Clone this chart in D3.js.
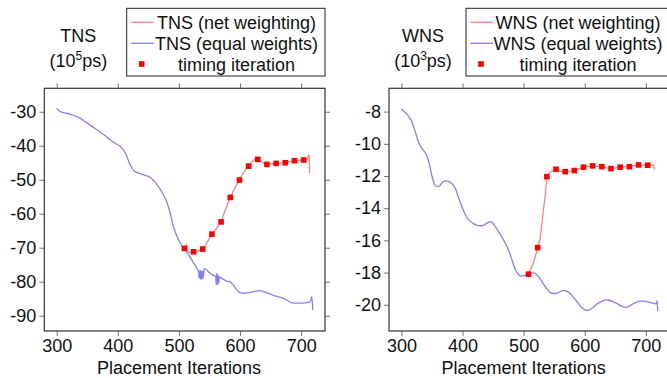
<!DOCTYPE html>
<html>
<head>
<meta charset="utf-8">
<script src="https://cdn.jsdelivr.net/npm/d3@7"></script>
<style>
  body { margin: 0; background: #fff; }
  text { font-family: "Liberation Sans", Arial, sans-serif; fill: #111; }
</style>
</head>
<body>
<div id="chart"></div>
<script>
// x ticks shared by both panels
var iterTicks = [300, 400, 500, 600, 700];

// TNS, equal weights (blue)
var tnsEqIter = [300, 303, 310, 320, 335, 349, 365, 382, 395, 404, 412, 420, 428, 440, 452, 460, 470, 480, 486, 491, 497, 505, 513, 520, 527, 532,
  533.5, 534.5, 535.5, 536.5, 537.5, 538.5, 539.5, 541, 543, 548, 555, 560,
  561, 562, 563, 564, 565, 566, 570, 578, 583, 589, 595, 600, 608, 620, 632, 640, 649, 660, 671, 678, 685, 694, 704, 711, 715, 717.4, 719];
var tnsEq = [-29.0, -29.6, -30.2, -30.6, -31.6, -33.2, -35.2, -37.4, -39.2, -40.2, -42.0, -45.5, -47.6, -48.4, -49.2, -50.5, -53.0, -56.5, -60.0, -63.8, -66.7, -69.5, -71.3, -73.3, -75.3, -77.0,
  -79.0, -76.5, -79.2, -76.8, -79.3, -77.0, -79.0, -76.3, -76.2, -77.0, -78.0, -78.5,
  -80.8, -77.5, -81.0, -78.0, -80.5, -78.6, -79.0, -79.8, -80.0, -81.0, -82.4, -83.3, -83.4, -83.0, -82.6, -83.0, -83.6, -84.3, -84.9, -85.6, -86.2, -86.3, -86.3, -86.1, -85.9, -84.4, -88.3];

// TNS, net weighting (red)
var tnsNetIter = [506, 509, 512, 513, 518, 524, 531, 539, 546, 554, 561, 569, 576, 584, 591, 599, 606, 614, 621, 625, 629, 636, 644, 651, 659, 666, 674, 681, 689, 696, 704, 710, 713, 714];
var tnsNet = [-70.0, -70.2, -69.2, -71.0, -71.4, -71.2, -71.0, -70.4, -68.5, -66.0, -64.5, -62.4, -58.8, -55.2, -52.5, -50.1, -47.8, -46.0, -44.5, -43.9, -44.0, -45.0, -45.5, -45.3, -45.2, -45.1, -45.0, -44.7, -44.4, -44.3, -44.2, -44.0, -42.6, -48.1];

// TNS at timing iterations
var tnsTimingIter = [509, 524, 539, 554, 569, 584, 599, 614, 629, 644, 659, 674, 689, 704];
var tnsTiming = [-70.2, -71.2, -70.4, -66.0, -62.4, -55.2, -50.1, -46.0, -44.0, -45.5, -45.2, -45.0, -44.4, -44.2];

// WNS, equal weights (blue)
var wnsEqIter = [300, 306, 312, 318, 323, 328, 332, 337, 341, 346, 350, 354, 358, 362, 367, 372, 377, 382, 388, 394, 400, 406, 412, 420, 428, 435, 442, 447, 452, 458, 466, 473, 480, 486, 491, 497, 504, 510, 516, 522, 528, 535, 541, 547, 553, 559, 565, 570, 576, 582, 589, 596, 602, 608, 614, 620, 627, 634, 640, 647, 654, 660, 667, 672, 678, 686, 694, 700, 708, 714, 717, 718.5, 719.5];
var wnsEq = [-7.85, -8.05, -8.3, -8.7, -9.3, -9.9, -10.2, -10.45, -10.7, -11.3, -12.0, -12.5, -12.66, -12.62, -12.4, -12.3, -12.33, -12.45, -12.75, -13.4, -14.0, -14.5, -14.8, -15.0, -15.1, -15.05, -14.88, -14.85, -15.05, -15.4, -15.9, -16.4, -17.1, -17.8, -18.1, -18.22, -18.15, -18.05, -18.0, -18.15, -18.45, -18.85, -19.15, -19.3, -19.3, -19.2, -19.1, -19.15, -19.3, -19.55, -19.9, -20.2, -20.35, -20.32, -20.15, -19.95, -19.8, -19.7, -19.72, -19.82, -19.95, -20.08, -20.16, -20.1, -19.97, -19.82, -19.76, -19.8, -19.86, -19.92, -19.95, -19.75, -20.4];

// WNS, net weighting (red)
var wnsNetIter = [508, 516, 523, 527, 530, 533, 535.5, 538, 541, 545, 553, 560, 568, 576, 583, 590, 598, 606, 613, 621, 628, 636, 643, 651, 658, 666, 673, 681, 688, 696, 703, 710, 713, 714];
var wnsNet = [-18.1, -17.4, -16.45, -15.9, -14.9, -13.9, -13.2, -12.04, -11.85, -11.7, -11.58, -11.7, -11.73, -11.7, -11.66, -11.55, -11.45, -11.4, -11.37, -11.4, -11.42, -11.5, -11.54, -11.5, -11.45, -11.43, -11.42, -11.36, -11.31, -11.32, -11.33, -11.32, -11.31, -11.6];

// WNS at timing iterations
var wnsTimingIter = [508, 523, 538, 553, 568, 583, 598, 613, 628, 643, 658, 673, 688, 703];
var wnsTiming = [-18.1, -16.45, -12.04, -11.58, -11.73, -11.66, -11.45, -11.37, -11.42, -11.54, -11.45, -11.42, -11.31, -11.33];

var tnsTicks = [-30, -40, -50, -60, -70, -80, -90];
var wnsTicks = [-8, -10, -12, -14, -16, -18, -20];

var blue = "rgb(128,128,255)", pink = "rgb(255,128,128)", red = "#ff0000";

var svg = d3.select("#chart").append("svg")
    .attr("width", 667)
    .attr("height", 378);

function zip(xs, ys) { return xs.map(function(d, i) { return [d, ys[i]]; }); }

function drawPanel(p) {
  var x = d3.scaleLinear().domain([279.7, 739]).range([p.left, p.left + 280.7]);
  var y = d3.scaleLinear().domain(p.ydom).range([331, 88.3]);
  var g = svg.append("g");

  // axes, ticks outward on all four sides
  var axes = [
    [d3.axisBottom(x).tickValues(iterTicks), "translate(0,331)", true],
    [d3.axisTop(x).tickValues(iterTicks), "translate(0,88.3)", false],
    [d3.axisLeft(y).tickValues(p.yticks).tickFormat(d3.format("d")), "translate(" + p.left + ",0)", true],
    [d3.axisRight(y).tickValues(p.yticks), "translate(" + (p.left + 280.7) + ",0)", false]
  ];
  axes.forEach(function(a) {
    var ax = g.append("g")
      .attr("transform", a[1])
      .call(a[0].tickSize(5).tickSizeOuter(0).tickPadding(3));
    ax.select(".domain").remove();
    ax.selectAll("line").attr("stroke", "#777");
    if (a[2]) {
      ax.selectAll("text").style("font-size", "18px").attr("fill", "#111")
        .style("font-family", "'Liberation Sans', Arial, sans-serif")
        .text(function(d) { return String(d).replace("\u2212", "-"); });
    } else {
      ax.selectAll("text").remove();
    }
  });

  g.append("rect")
    .attr("x", p.left).attr("y", 88.3)
    .attr("width", 280.7).attr("height", 242.7)
    .attr("fill", "none").attr("stroke", "#333").attr("stroke-width", 1.2);

  var clip = "clip" + p.name;
  svg.append("clipPath").attr("id", clip).append("rect")
    .attr("x", p.left).attr("y", 88.3).attr("width", 280.7).attr("height", 242.7);

  var plot = g.append("g").attr("clip-path", "url(#" + clip + ")");

  var line = d3.line().x(function(d) { return x(d[0]); }).y(function(d) { return y(d[1]); });

  plot.append("path")
    .datum(zip(p.eqIter, p.eq))
    .attr("fill", "none").attr("stroke", blue).attr("stroke-width", 1.3)
    .attr("d", line.curve(d3.curveMonotoneX));

  plot.append("path")
    .datum(zip(p.netIter, p.net))
    .attr("fill", "none").attr("stroke", pink).attr("stroke-width", 1.3)
    .attr("d", line.curve(d3.curveLinear));

  plot.selectAll("rect.mark")
    .data(zip(p.tIter, p.t))
    .enter().append("rect")
      .attr("class", "mark")
      .attr("x", function(d) { return x(d[0]) - 2.8; })
      .attr("y", function(d) { return y(d[1]) - 2.8; })
      .attr("width", 5.6).attr("height", 5.6)
      .attr("fill", red);

  // title and unit
  svg.append("text")
    .attr("x", p.left + 34).attr("y", 42)
    .attr("text-anchor", "middle").style("font-size", "18px")
    .text(p.name);
  var unit = svg.append("text")
    .attr("x", p.left + 34).attr("y", 67)
    .attr("text-anchor", "middle").style("font-size", "18px");
  unit.append("tspan").text("(10");
  unit.append("tspan").attr("dy", -7).style("font-size", "12px").text(p.exp);
  unit.append("tspan").attr("dy", 7).text("ps)");

  svg.append("text")
    .attr("x", x(500)).attr("y", 374)
    .attr("text-anchor", "middle").style("font-size", "18px")
    .text("Placement Iterations");

  // legend
  var lg = svg.append("g");
  lg.append("rect")
    .attr("x", p.legX).attr("y", 8.3)
    .attr("width", p.legW).attr("height", 67.7)
    .attr("fill", "#fff").attr("stroke", "#222").attr("stroke-width", 1);
  var rows = [
    [p.name + " (net weighting)", pink, 22.3],
    [p.name + " (equal weights)", blue, 43.3],
    ["timing iteration", null, 64]
  ];
  rows.forEach(function(r) {
    if (r[1]) {
      lg.append("line")
        .attr("x1", p.legX + 4.5).attr("x2", p.legX + 27)
        .attr("y1", r[2]).attr("y2", r[2])
        .attr("stroke", r[1]).attr("stroke-width", 1.3);
    } else {
      lg.append("rect")
        .attr("x", p.legX + 15 - 2.8).attr("y", r[2] - 2.8)
        .attr("width", 5.6).attr("height", 5.6).attr("fill", red);
    }
    lg.append("text")
      .attr("x", p.legTextX).attr("y", r[2] + 6.5)
      .attr("text-anchor", "middle").style("font-size", "18px")
      .text(r[0]);
  });
}

drawPanel({
  name: "TNS", exp: "5", left: 44.3,
  ydom: [-94.5, -23.1], yticks: tnsTicks,
  eqIter: tnsEqIter, eq: tnsEq, netIter: tnsNetIter, net: tnsNet,
  tIter: tnsTimingIter, t: tnsTiming,
  legX: 126.7, legW: 198.3, legTextX: 236.5
});

drawPanel({
  name: "WNS", exp: "3", left: 389,
  ydom: [-21.63, -6.55], yticks: wnsTicks,
  eqIter: wnsEqIter, eq: wnsEq, netIter: wnsNetIter, net: wnsNet,
  tIter: wnsTimingIter, t: wnsTiming,
  legX: 466, legW: 210, legTextX: 578
});
</script>
</body>
</html>
